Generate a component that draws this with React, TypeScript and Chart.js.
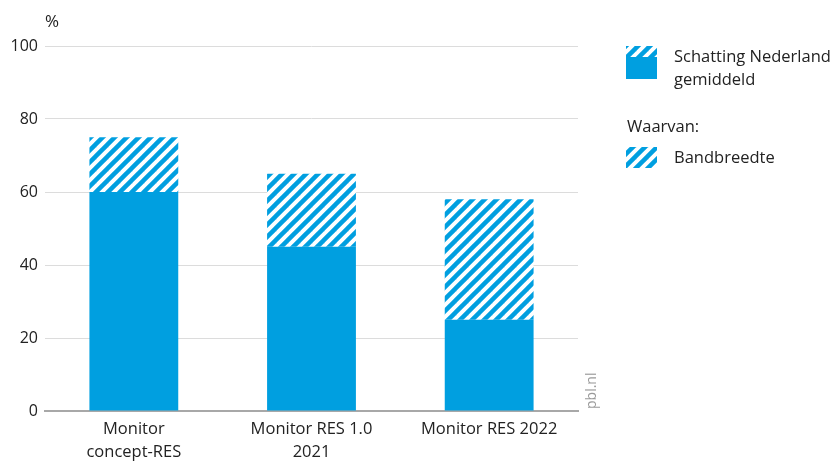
import React, { useEffect, useRef } from "react";
import { Chart, registerables } from "chart.js";

Chart.register(...registerables);

const categories: (string | string[])[] = [
  ["Monitor", "concept-RES"],
  ["Monitor RES 1.0", "2021"],
  "Monitor RES 2022",
];
const averageValues = [60, 45, 25];
const bandwidthValues = [15, 20, 33];
const yTicks = [0, 20, 40, 60, 80, 100];

const BLUE = "#009fe0";
const FONT = "'Open Sans', 'Noto Sans', sans-serif";

function makeHatch(): CanvasPattern | string {
  const s = 12;
  const c = document.createElement("canvas");
  c.width = s;
  c.height = s;
  const ctx = c.getContext("2d");
  if (!ctx) return BLUE;
  ctx.fillStyle = "#ffffff";
  ctx.fillRect(0, 0, s, s);
  ctx.strokeStyle = BLUE;
  ctx.lineWidth = 4.5;
  ctx.lineCap = "square";
  for (let k = 0; k <= 2; k++) {
    ctx.beginPath();
    ctx.moveTo(-s + k * s - 2, s + 2);
    ctx.lineTo(k * s + 2, -2);
    ctx.stroke();
  }
  const p = ctx.createPattern(c, "repeat");
  return p || BLUE;
}

export default function App() {
  const ref = useRef<HTMLCanvasElement | null>(null);

  useEffect(() => {
    document.body.style.margin = "0";
    const canvas = ref.current;
    if (!canvas) return;
    const hatch = makeHatch();

    const extras = {
      id: "extras",
      afterDraw(chart: any) {
        const ctx = chart.ctx as CanvasRenderingContext2D;
        ctx.save();
        // % label
        ctx.fillStyle = "#222";
        ctx.font = `17px ${FONT}`;
        ctx.textAlign = "left";
        ctx.textBaseline = "middle";
        ctx.fillText("%", 45, 22);
        // pbl.nl
        ctx.save();
        ctx.translate(592, 409);
        ctx.rotate(-Math.PI / 2);
        ctx.fillStyle = "#9a9a9a";
        ctx.font = `14px ${FONT}`;
        ctx.textAlign = "left";
        ctx.textBaseline = "middle";
        ctx.fillText("pbl.nl", 0, 0);
        ctx.restore();
        // legend
        const lx = 626;
        const bw = 31;
        ctx.fillStyle = hatch as any;
        ctx.fillRect(lx, 46, bw, 11);
        ctx.fillStyle = BLUE;
        ctx.fillRect(lx, 57, bw, 22);
        ctx.fillStyle = hatch as any;
        ctx.fillRect(lx, 147, bw, 21);
        ctx.fillStyle = "#222";
        ctx.font = `16.5px ${FONT}`;
        ctx.textBaseline = "middle";
        ctx.fillText("Schatting Nederland", 674, 57);
        ctx.fillText("gemiddeld", 674, 80);
        ctx.fillText("Waarvan:", 627, 127);
        ctx.fillText("Bandbreedte", 674, 158);
        ctx.restore();
      },
    };

    const chart = new Chart(canvas, {
      type: "bar",
      data: {
        labels: categories,
        datasets: [
          {
            label: "Schatting Nederland gemiddeld",
            data: averageValues,
            backgroundColor: BLUE,
            borderWidth: 0,
            barPercentage: 0.5,
            categoryPercentage: 1,
          },
          {
            label: "Bandbreedte",
            data: bandwidthValues,
            backgroundColor: hatch as any,
            borderWidth: 0,
            barPercentage: 0.5,
            categoryPercentage: 1,
          },
        ],
      },
      options: {
        animation: false,
        responsive: false,
        maintainAspectRatio: false,
        layout: { padding: { top: 46, right: 259, left: 0, bottom: 0 } },
        plugins: {
          legend: { display: false },
          tooltip: { enabled: false },
        },
        scales: {
          x: {
            stacked: true,
            grid: { display: false, drawTicks: false },
            border: { display: true, color: "#a8a8a8", width: 2 },
            ticks: {
              color: "#222",
              font: { family: FONT, size: 16.5, lineHeight: 1.38 },
              padding: 7,
              maxRotation: 0,
            },
            afterFit(scale: any) {
              scale.height = 50;
            },
          },
          y: {
            stacked: true,
            min: 0,
            max: 100,
            afterBuildTicks(scale: any) {
              scale.ticks = yTicks.map((v) => ({ value: v }));
            },
            grid: { color: "#dcdcdc", lineWidth: 1, drawTicks: false },
            border: { display: false },
            ticks: {
              color: "#222",
              font: { family: FONT, size: 16 },
              padding: 7,
            },
            afterFit(scale: any) {
              scale.width = 45;
            },
          },
        },
      },
      plugins: [extras],
    });
    return () => chart.destroy();
  }, []);

  return (
    <div style={{ position: "fixed", left: 0, top: 0, width: 837, height: 461 }}>
      <canvas ref={ref} width={837} height={461} style={{ width: 837, height: 461 }} />
    </div>
  );
}
